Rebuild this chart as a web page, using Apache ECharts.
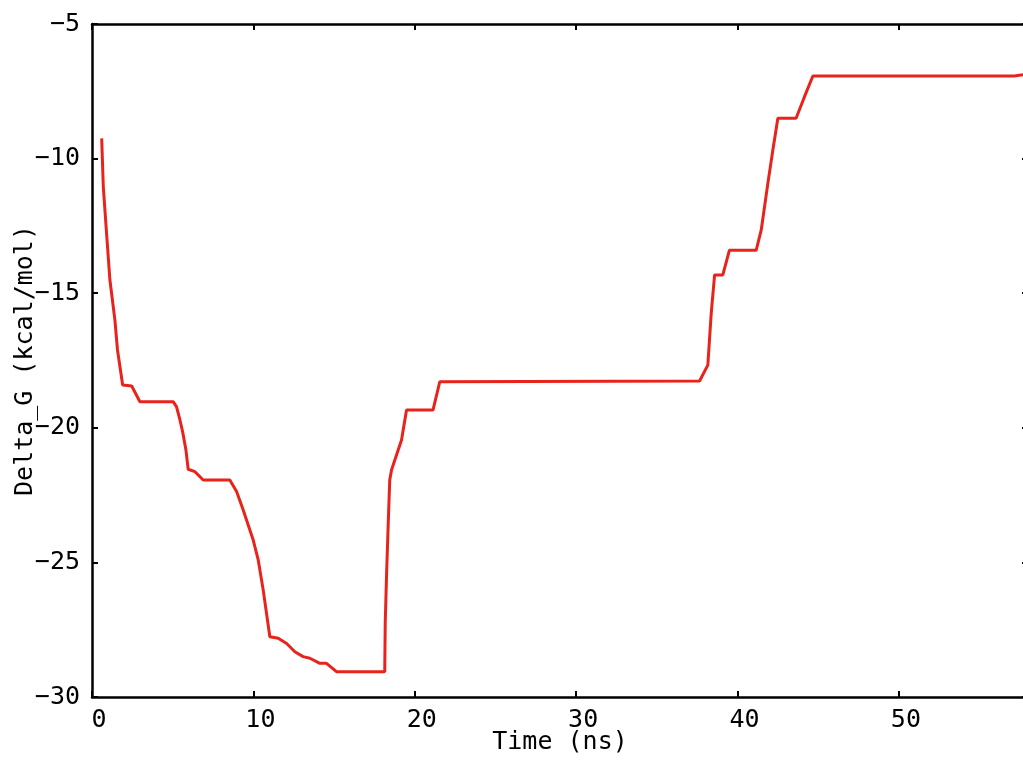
<!DOCTYPE html>
<html>
<head>
<meta charset="utf-8">
<script src="https://cdn.jsdelivr.net/npm/echarts@6/dist/echarts.min.js"></script>
<style>
html,body{margin:0;padding:0;background:#fff;}
#chart{width:1023px;height:769px;}
</style>
</head>
<body>
<div id="chart"></div>
<script>
// Time (ns)
const timeNs = [0.60, 0.70, 0.91, 1.11, 1.42, 1.58, 1.90, 2.46, 2.97, 5.03, 5.24, 5.45, 5.63, 5.82, 5.96, 6.38, 6.89, 8.54, 8.96, 9.37, 9.99, 10.30, 10.61, 11.02, 11.54, 12.06, 12.57, 13.08, 13.50, 14.12, 14.53, 15.15, 18.14, 18.17, 18.25, 18.35, 18.45, 18.56, 19.18, 19.49, 21.13, 21.55, 37.65, 38.16, 38.37, 38.58, 39.09, 39.50, 41.16, 41.47, 41.88, 42.19, 42.50, 43.63, 44.15, 44.67, 57.15, 57.21, 58.0];
// Delta G (kcal/mol)
const deltaG = [-9.25, -11.04, -12.84, -14.51, -16.0, -17.11, -18.41, -18.45, -19.03, -19.03, -19.22, -19.71, -20.19, -20.82, -21.54, -21.63, -21.94, -21.94, -22.37, -23.05, -24.17, -24.91, -26.03, -27.76, -27.82, -28.01, -28.32, -28.50, -28.56, -28.75, -28.75, -29.06, -29.06, -27.25, -25.53, -23.67, -21.94, -21.57, -20.45, -19.34, -19.34, -18.29, -18.26, -17.67, -15.75, -14.32, -14.32, -13.40, -13.40, -12.65, -10.92, -9.68, -8.50, -8.50, -7.70, -6.93, -6.93, -6.86, -6.86];
const xTicks = [0, 10, 20, 30, 40, 50];
const yTicks = [-30, -25, -20, -15, -10, -5];

const FONT = 'DejaVu Sans Mono';
const chart = echarts.init(document.getElementById('chart'));
const data = timeNs.map((t, i) => [t, deltaG[i]]);
const axisLineStyle = {color: '#000', width: 2.5};

chart.setOption({
  animation: false,
  backgroundColor: '#fff',
  grid: {left: 92, top: 24, width: 936, height: 673, containLabel: false, outerBoundsMode: 'none'},
  xAxis: [{
    type: 'value', min: 0, max: 58, interval: 10,
    name: 'Time (ns)', nameLocation: 'middle', nameGap: 33, nameMoveOverlap: false,
    nameTextStyle: {fontFamily: FONT, fontSize: 25, color: '#000'},
    axisLine: {show: true, onZero: false, lineStyle: axisLineStyle},
    axisTick: {show: true, inside: true, length: 6, lineStyle: {color: '#000', width: 2}},
    axisLabel: {fontFamily: FONT, fontSize: 25, color: '#000', margin: 11, padding: [0, 0, 0, 14],
      formatter: v => xTicks.includes(v) ? String(v) : ''},
    splitLine: {show: false}
  }, {
    type: 'value', min: 0, max: 58, interval: 10, position: 'top',
    axisLine: {show: true, onZero: false, lineStyle: axisLineStyle},
    axisTick: {show: true, inside: true, length: 6, lineStyle: {color: '#000', width: 2}},
    axisLabel: {show: false}, splitLine: {show: false}
  }],
  yAxis: [{
    type: 'value', min: -30, max: -5, interval: 5,
    name: 'Delta_G (kcal/mol)', nameLocation: 'middle', nameGap: 54, nameRotate: 90, nameMoveOverlap: false,
    nameTextStyle: {fontFamily: FONT, fontSize: 25, color: '#000'},
    axisLine: {show: true, onZero: false, lineStyle: axisLineStyle},
    axisTick: {show: true, inside: true, length: 6, lineStyle: {color: '#000', width: 2}},
    axisLabel: {fontFamily: FONT, fontSize: 25, color: '#000', margin: 12,
      formatter: v => yTicks.includes(v) ? String(v).replace('-', '\u2212') : ''},
    splitLine: {show: false}
  }, {
    type: 'value', min: -30, max: -5, interval: 5, position: 'right',
    axisLine: {show: true, onZero: false, lineStyle: axisLineStyle},
    axisTick: {show: true, inside: true, length: 6, lineStyle: {color: '#000', width: 2}},
    axisLabel: {show: false}, splitLine: {show: false}
  }],
  series: [{
    type: 'line', data: data, xAxisIndex: 0, yAxisIndex: 0,
    showSymbol: false, smooth: false,
    lineStyle: {color: '#e8231b', width: 3},
    itemStyle: {color: '#e8231b'}
  }]
});
</script>
</body>
</html>
